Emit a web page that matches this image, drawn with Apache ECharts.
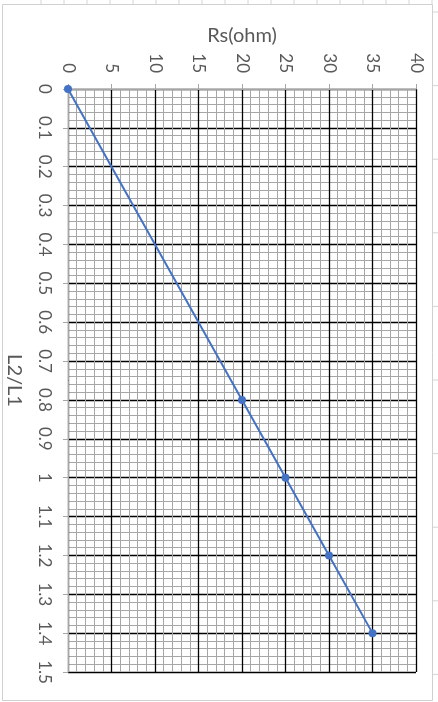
<!DOCTYPE html>
<html>
<head>
<meta charset="utf-8">
<script src="https://cdn.jsdelivr.net/npm/echarts@6/dist/echarts.min.js"></script>
<style>
  html, body { margin: 0; padding: 0; background: #fff; }
  #main { width: 438px; height: 702px; }
</style>
</head>
<body>
<div id="main"></div>
<script>
// 数据
const rsValues = [0, 20, 25, 30, 35];
const ratioValues = [0, 0.8, 1.0, 1.2, 1.4];
const xTicks = [0, 40, 5];      // min, max, interval
const yTicks = [0, 1.5, 0.1];

const chart = echarts.init(document.getElementById('main'), null, { renderer: 'canvas' });

// 背景的表格线（截图里 Excel 单元格）
const cells = [];
for (let x = 41; x < 438; x += 23) {
  cells.push({ type: 'line', shape: { x1: x, y1: 0, x2: x, y2: 4 }, style: { stroke: '#d4d4d4', lineWidth: 1 } });
}
for (let y = 12; y < 702; y += 73.6) {
  cells.push({ type: 'line', shape: { x1: 433, y1: y, x2: 438, y2: y }, style: { stroke: '#d4d4d4', lineWidth: 1 } });
}
cells.push({ type: 'rect', shape: { x: 2.5, y: 4.5, width: 430, height: 696 }, style: { fill: null, stroke: '#d0d0d0', lineWidth: 1 }, z: -1 });

const gray = '#a6a6a6';
const font = 'Lato, "Open Sans", sans-serif';

const option = {
  animation: false,
  backgroundColor: '#fff',
  graphic: cells,
  grid: { left: 68, top: 89, right: 22, bottom: 30, containLabel: false, outerBoundsMode: 'none' },
  xAxis: {
    type: 'value',
    position: 'top',
    min: xTicks[0], max: xTicks[1], interval: xTicks[2],
    name: 'Rs(ohm)',
    nameLocation: 'middle',
    nameGap: 42,
    nameTextStyle: { color: '#595959', fontSize: 20, fontFamily: font },
    axisLine: { show: true, lineStyle: { color: gray, width: 1 } },
    axisTick: { show: true, length: 5, lineStyle: { color: gray } },
    axisLabel: { rotate: -90, margin: 16, color: '#595959', fontSize: 17, fontFamily: font },
    splitLine: { show: true, lineStyle: { color: '#000', width: 1.3 } },
    minorTick: { show: false, splitNumber: 5 },
    minorSplitLine: { show: true, lineStyle: { color: gray, width: 1 } }
  },
  yAxis: {
    type: 'value',
    inverse: true,
    min: yTicks[0], max: yTicks[1], interval: yTicks[2],
    name: 'L2/L1',
    nameLocation: 'middle',
    nameRotate: -90,
    nameGap: 44,
    nameTextStyle: { color: '#595959', fontSize: 20, fontFamily: font },
    axisLine: { show: true, lineStyle: { color: gray, width: 1 } },
    axisTick: { show: true, length: 5, lineStyle: { color: gray } },
    axisLabel: { rotate: -90, margin: 15, color: '#595959', fontSize: 17, fontFamily: font },
    splitLine: { show: true, lineStyle: { color: '#000', width: 1.3 } },
    minorTick: { show: false, splitNumber: 5 },
    minorSplitLine: { show: true, lineStyle: { color: gray, width: 1 } }
  },
  series: [{
    type: 'line',
    data: rsValues.map((v, i) => [v, ratioValues[i]]),
    symbol: 'circle',
    symbolSize: 8,
    itemStyle: { color: '#4472c4' },
    lineStyle: { color: '#4472c4', width: 2 },
    z: 5
  }]
};

chart.setOption(option);
</script>
</body>
</html>
